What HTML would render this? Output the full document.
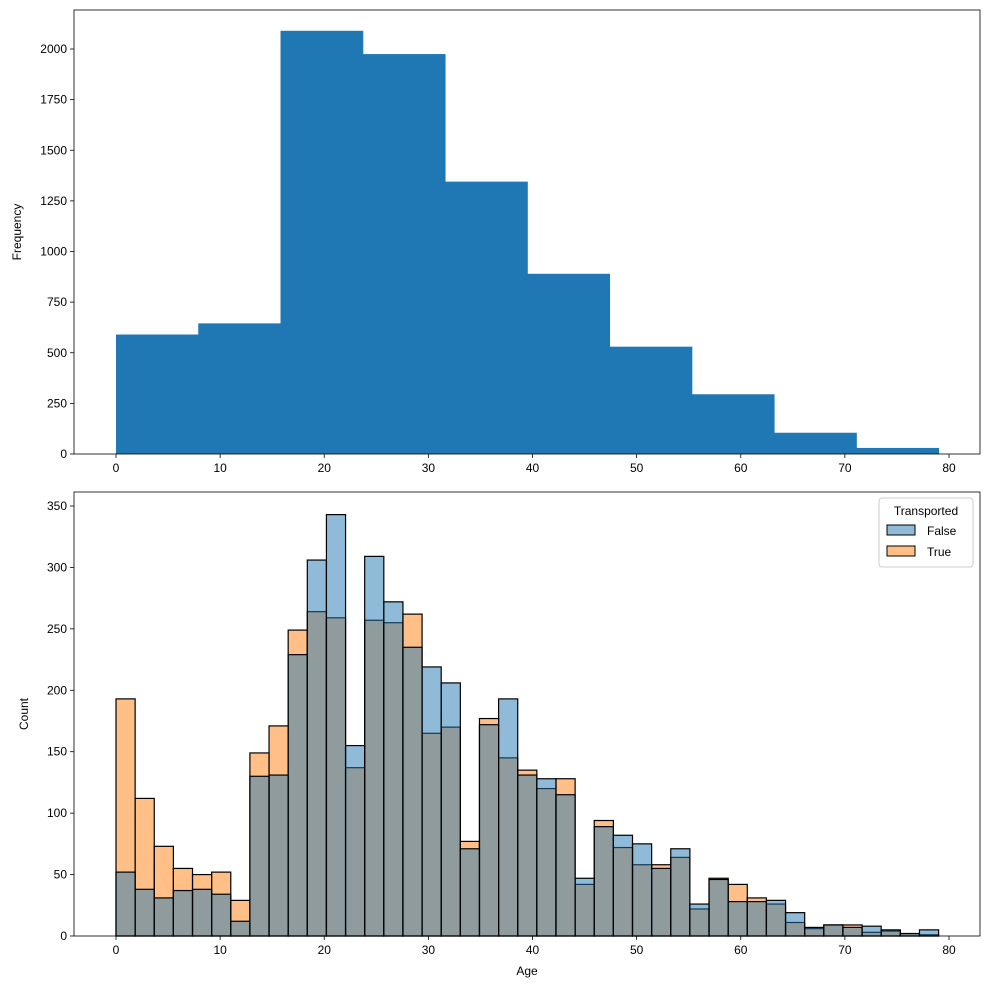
<!DOCTYPE html>
<html><head><meta charset="utf-8"><style>
body{margin:0;background:#fff;}
svg text{font-family:"Liberation Sans","DejaVu Sans",sans-serif;font-size:12px;fill:#000;}
</style></head><body>
<svg id="chart" width="989" height="989" viewBox="0 0 989 989" xmlns="http://www.w3.org/2000/svg"></svg>
<script>
const topValues=[590,645,2090,1975,1345,890,530,295,105,30];
const topYTicks=[0,250,500,750,1000,1250,1500,1750,2000];
const xTicks=[0,10,20,30,40,50,60,70,80];
const botFalse=[52,38,31,37,38,34,12,130,131,229,306,343,155,309,272,235,219,206,71,172,193,131,128,115,47,89,82,75,55,71,26,46,28,28,29,19,7,9,7,8,5,2,5];
const botTrue=[193,112,73,55,50,52,29,149,171,249,264,259,137,257,255,262,165,170,77,177,145,135,120,128,42,94,72,58,58,64,22,47,42,31,26,11,6,9,9,3,4,2,1];
const botYTicks=[0,50,100,150,200,250,300,350];
const ageMin=0, ageMax=79;

const svg=document.getElementById('chart');
const NS='http://www.w3.org/2000/svg';
function mk(tag,attrs,parent){const e=document.createElementNS(NS,tag);for(const k in attrs)e.setAttribute(k,attrs[k]);(parent||svg).appendChild(e);return e;}
const xS=v=>116+(v-0)*(949-116)/80;

function axes(g,top,bottom,yS,yTicks,fmt){
  xTicks.forEach(t=>{
    const l=mk('line',{x1:xS(t),x2:xS(t),y1:bottom,y2:bottom+4,stroke:'#000','stroke-width':0.8},g);
    
    
    const tx=mk('text',{x:xS(t),y:bottom+18,'text-anchor':'middle'},g);
    tx.textContent=t;
    
    
  });
  yTicks.forEach(t=>{
    const l=mk('line',{x1:70,x2:74,y1:yS(t),y2:yS(t),stroke:'#000','stroke-width':0.8},g);
    
    
    const tx=mk('text',{x:67,y:yS(t)+4,'text-anchor':'end'},g);
    tx.textContent=t;
    
    
  });
  const r=mk('rect',{x:74,y:top,width:906,height:bottom-top,fill:'none',stroke:'#000','stroke-width':0.8},g);
  
  
}

// Top chart
const g1=mk('g',{});


const y1=v=>454-v*(454-49)/2000;
const w1=(ageMax-ageMin)/topValues.length;
topValues.forEach((v,i)=>{
  const x0=xS(ageMin+i*w1),x1=xS(ageMin+(i+1)*w1);
  const r=mk('rect',{x:x0,y:y1(v),width:x1-x0+0.5,height:454-y1(v),fill:'#1f77b4'},g1);
  
  
});
axes(g1,10,454,y1,topYTicks);
const yl1=mk('text',{x:0,y:0,transform:'translate(21,232) rotate(-90)','text-anchor':'middle'},g1);
yl1.textContent='Frequency';



// Bottom chart
const g2=mk('g',{});


const y2=v=>936-v*(936-506)/350;
const w2=(ageMax-ageMin)/botFalse.length;
[[botTrue,'#ff7f0e','bar-true'],[botFalse,'#1f77b4','bar-false']].forEach(([arr,c,nm])=>{
  arr.forEach((v,i)=>{
    const x0=xS(ageMin+i*w2),x1=xS(ageMin+(i+1)*w2);
    const r=mk('rect',{x:x0,y:y2(v),width:x1-x0,height:936-y2(v),fill:c,'fill-opacity':0.5,stroke:'#000','stroke-width':1.2},g2);
    
    
  });
});
axes(g2,492,936,y2,botYTicks);
const yl2=mk('text',{x:0,y:0,transform:'translate(28,714) rotate(-90)','text-anchor':'middle'},g2);
yl2.textContent='Count';


const xl2=mk('text',{x:527,y:975,'text-anchor':'middle'},g2);
xl2.textContent='Age';



// Legend
const lg=mk('g',{});


mk('rect',{x:879,y:498,width:94,height:69,rx:3,fill:'#fff','fill-opacity':0.8,stroke:'#ccc'},lg);
const lt=mk('text',{x:926,y:515,'text-anchor':'middle'},lg);
lt.textContent='Transported';


[['False','#1f77b4',525],['True','#ff7f0e',546]].forEach(([lab,c,yy])=>{
  const s=mk('rect',{x:887,y:yy,width:28,height:10,fill:c,'fill-opacity':0.5,stroke:'#000','stroke-width':1},lg);
  
  
  const t=mk('text',{x:927,y:yy+10},lg);
  t.textContent=lab;
  
  
});
</script>
</body></html>
